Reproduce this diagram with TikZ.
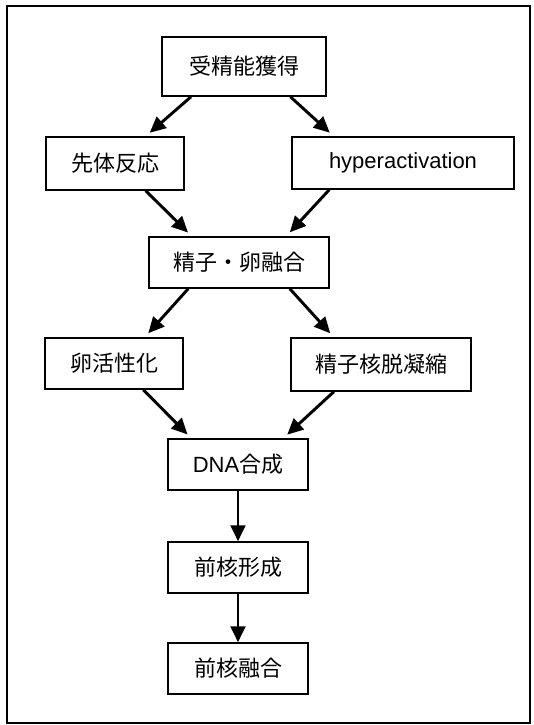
\documentclass[tikz,border=0pt]{standalone}
\usepackage{fontspec}
\setmainfont{Liberation Sans}
\newfontfamily\cjk{Noto Sans CJK JP}
\usepackage{tikz}
\usetikzlibrary{calc, arrows.meta}

\begin{document}
\begin{tikzpicture}[x=0.75pt, y=-0.75pt,
        box/.style={draw, line width=1.1pt, inner sep=0pt, font=\fontsize{16.5}{20}\selectfont},
        flow/.style={line width=2.2pt, -{Triangle[length=12pt, width=11pt]}}]
        % the frame
        \useasboundingbox (0,0) rectangle (534,725);
        \draw [line width=0.9pt] (7,6) rectangle (530,723);

        % the steps
        \node[box, minimum width=164*0.75pt, minimum height=59*0.75pt] (fert)  at (244,66.5)  {\cjk 受精能獲得};
        \node[box, minimum width=138*0.75pt, minimum height=53*0.75pt] (acro)  at (115,163.5) {\cjk 先体反応};
        \node[box, minimum width=222*0.75pt, minimum height=52*0.75pt] (hyper) at (403,163)   {hyperactivation};
        \node[box, minimum width=180*0.75pt, minimum height=51*0.75pt] (fuse)  at (239,262.5) {\cjk 精子・卵融合};
        \node[box, minimum width=138*0.75pt, minimum height=51*0.75pt] (egg)   at (114,363.5) {\cjk 卵活性化};
        \node[box, minimum width=180*0.75pt, minimum height=53*0.75pt] (decon) at (381,364.5) {\cjk 精子核脱凝縮};
        \node[box, minimum width=140*0.75pt, minimum height=51*0.75pt] (dna)   at (238,464.5) {DNA{\cjk 合成}};
        \node[box, minimum width=140*0.75pt, minimum height=51*0.75pt] (form)  at (238,567.5) {\cjk 前核形成};
        \node[box, minimum width=140*0.75pt, minimum height=51*0.75pt] (pnf)   at (238,668.5) {\cjk 前核融合};

        % first split
        \draw [flow, shorten >=4pt] ($ (fert.south west)!.18!(fert.south east) $) -- ($ (acro.north west)!.72!(acro.north east) $);
        \draw [flow, shorten >=4pt] ($ (fert.south west)!.78!(fert.south east) $) -- ($ (hyper.north west)!.19!(hyper.north east) $);
        \draw [flow, shorten >=4pt] ($ (acro.south west)!.72!(acro.south east) $) -- ($ (fuse.north west)!.24!(fuse.north east) $);
        \draw [flow, shorten >=4pt] ($ (hyper.south west)!.17!(hyper.south east) $) -- ($ (fuse.north west)!.76!(fuse.north east) $);

        % second split
        \draw [flow, shorten >=4pt] ($ (fuse.south west)!.22!(fuse.south east) $) -- ($ (egg.north west)!.72!(egg.north east) $);
        \draw [flow, shorten >=4pt] ($ (fuse.south west)!.78!(fuse.south east) $) -- ($ (decon.north west)!.24!(decon.north east) $);
        \draw [flow, shorten >=4pt] ($ (egg.south west)!.71!(egg.south east) $) -- ($ (dna.north west)!.17!(dna.north east) $);
        \draw [flow, shorten >=4pt] ($ (decon.south west)!.24!(decon.south east) $) -- ($ (dna.north west)!.82!(dna.north east) $);

        % the straight part
        \draw [flow] (dna) -- (form);
        \draw [flow] (form) -- (pnf);
    \end{tikzpicture}
\end{document}
